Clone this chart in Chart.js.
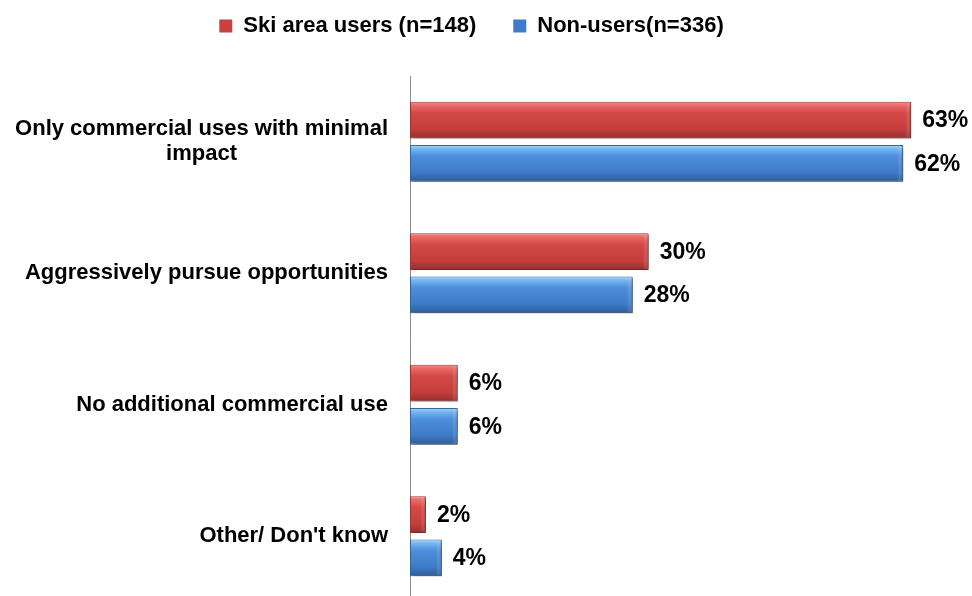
<!DOCTYPE html>
<html><head><meta charset="utf-8">
<script src="https://cdn.jsdelivr.net/npm/chart.js@4/dist/chart.umd.min.js"></script>
<style>html,body{margin:0;padding:0;overflow:hidden;background:#fff;}canvas{display:block;}</style>
</head><body>
<canvas id="c" width="972" height="602"></canvas>
<script>
const categories = [["Only commercial uses with minimal", "impact"], "Aggressively pursue opportunities", "No additional commercial use", "Other/ Don't know"];
const seriesNames = ["Ski area users (n=148)", "Non-users(n=336)"];
const skiUsers = [63, 30, 6, 2];
const nonUsers = [62, 28, 6, 4];
const valueSuffix = "%";

const FONT = "'Liberation Sans', Arial, sans-serif";
const redStops = [[0, '#f39090'], [0.1, '#ea6a68'], [0.3, '#d44947'], [0.75, '#c53d3b'], [1, '#93302f']];
const blueStops = [[0, '#aad8fb'], [0.1, '#76b6f0'], [0.3, '#4d8fdc'], [0.75, '#3e79c6'], [1, '#2d5d96']];
const legendFills = ['#c8413f', '#3f7cc8'];

function barFill(stops, fallback) {
  return function (ctx) {
    const el = ctx.element;
    if (ctx.type !== 'data' || !el || !isFinite(el.y) || !isFinite(el.height) || !el.height) return fallback;
    const top = el.y - el.height / 2, bot = el.y + el.height / 2;
    const g = ctx.chart.ctx.createLinearGradient(0, top, 0, bot);
    stops.forEach(s => g.addColorStop(s[0], s[1]));
    return g;
  };
}

const shiftLegend = {
  id: 'shiftLegend',
  afterLayout(chart) {
    const lg = chart.legend;
    if (lg) { lg.top -= 29; lg.bottom -= 29; }
  }
};

const decor = {
  id: 'decor',
  beforeDatasetsDraw(chart) {
    const c = chart.ctx;
    c.save();
    c.shadowColor = 'rgba(0,0,0,0.35)';
    c.shadowBlur = 4;
    c.shadowOffsetX = 2;
    c.shadowOffsetY = 3;
  },
  afterDatasetsDraw(chart) {
    const c = chart.ctx;
    c.restore();
    c.save();
    chart.data.datasets.forEach((ds, di) => {
      chart.getDatasetMeta(di).data.forEach(el => {
        const top = el.y - el.height / 2, h = el.height, x1 = el.x;
        const g = c.createLinearGradient(x1 - 6, 0, x1, 0);
        g.addColorStop(0, 'rgba(255,255,255,0)');
        g.addColorStop(0.5, 'rgba(255,255,255,0.12)');
        g.addColorStop(1, 'rgba(0,0,0,0.22)');
        c.fillStyle = g;
        c.fillRect(x1 - 6, top + 1, 6, h - 2);
      });
    });
    c.restore();
    c.save();
    c.font = "bold 23px " + FONT;
    c.fillStyle = '#000';
    c.textBaseline = 'middle';
    c.textAlign = 'left';
    chart.data.datasets.forEach((ds, di) => {
      const meta = chart.getDatasetMeta(di);
      meta.data.forEach((el, i) => {
        c.fillText(ds.data[i] + valueSuffix, el.x + 11, el.y + 1);
      });
    });
    c.restore();
  },
  afterDraw(chart) {
    const c = chart.ctx;
    const ys = chart.scales.y;
    c.save();
    c.font = "bold 22px " + FONT;
    c.fillStyle = '#000';
    c.textBaseline = 'middle';
    c.textAlign = 'center';
    const lh = 25;
    categories.forEach((lab, i) => {
      const lines = Array.isArray(lab) ? lab : [lab];
      const widest = Math.max(...lines.map(t => c.measureText(t).width));
      const cx = 388 - widest / 2;
      const yc = ys.getPixelForValue(i);
      const y0 = yc - (lines.length - 1) * lh / 2;
      lines.forEach((t, k) => c.fillText(t, cx, y0 + k * lh));
    });
    c.restore();
  }
};

const chart = new Chart(document.getElementById('c'), {
  type: 'bar',
  data: {
    labels: categories,
    datasets: [
      { label: seriesNames[0], data: skiUsers, backgroundColor: barFill(redStops, legendFills[0]), borderColor: '#a33634', borderWidth: 1, borderSkipped: false },
      { label: seriesNames[1], data: nonUsers, backgroundColor: barFill(blueStops, legendFills[1]), borderColor: '#35689f', borderWidth: 1, borderSkipped: false }
    ]
  },
  options: {
    indexAxis: 'y',
    responsive: false,
    animation: false,
    devicePixelRatio: 1,
    categoryPercentage: 0.66,
    barPercentage: 0.845,
    layout: { padding: { top: 7, right: 29, left: 0, bottom: 0 } },
    plugins: {
      legend: {
        position: 'top',
        labels: {
          boxWidth: 13, boxHeight: 13, padding: 37, color: '#000',
          font: { family: FONT, size: 22, weight: 'bold' },
          generateLabels(chart) {
            const items = Chart.defaults.plugins.legend.labels.generateLabels(chart);
            items.forEach((it, i) => { it.fillStyle = legendFills[i]; it.strokeStyle = legendFills[i]; it.lineWidth = 0; });
            return items;
          }
        }
      },
      tooltip: { enabled: false }
    },
    scales: {
      x: { display: false, min: 0, max: 67 },
      y: {
        grid: { display: false, drawTicks: false },
        border: { display: true, color: '#8c8c8c', width: 1 },
        ticks: { display: false },
        afterFit(s) { s.width = 410; }
      }
    }
  },
  plugins: [shiftLegend, decor]
});
chart.update();
</script>
</body></html>
